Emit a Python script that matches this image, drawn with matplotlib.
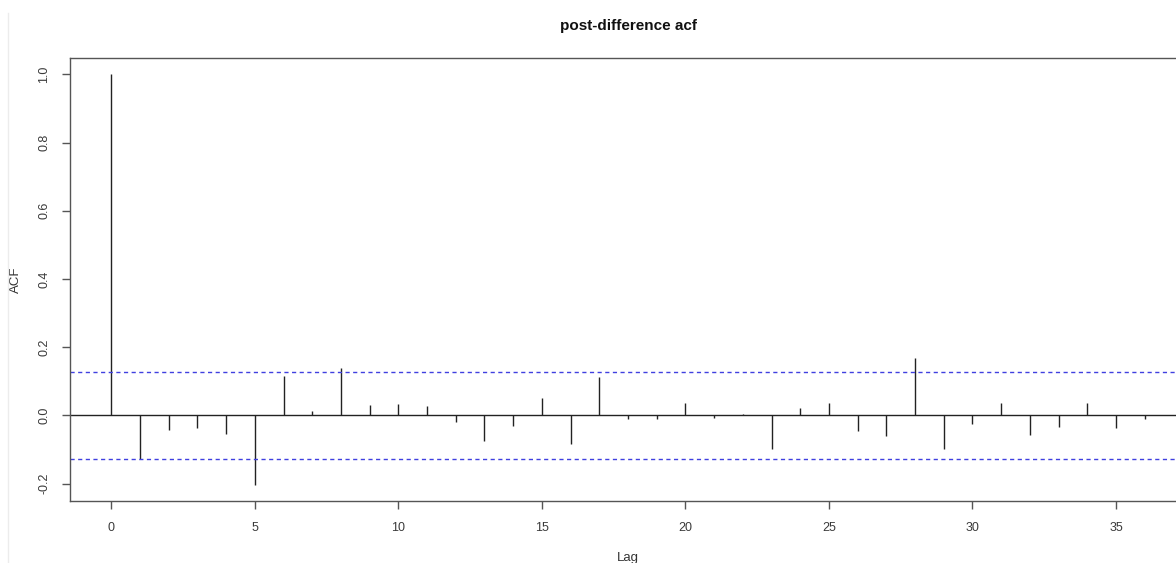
import matplotlib
matplotlib.use("Agg")
import matplotlib.pyplot as plt
from matplotlib.lines import Line2D

plt.rcParams['font.family'] = ['Liberation Sans', 'DejaVu Sans']

lags = list(range(0, 37))
acf_values = [1.0, -0.127, -0.043, -0.036, -0.055, -0.203, 0.116, 0.012, 0.140, 0.030,
              0.032, 0.028, -0.019, -0.075, -0.030, 0.052, -0.085, 0.113, -0.011, -0.012,
              0.037, -0.008, 0.004, -0.098, 0.021, 0.035, -0.047, -0.061, 0.169, -0.098,
              -0.026, 0.035, -0.058, -0.034, 0.035, -0.036, -0.012]
conf_bound = 0.127
x_ticks = [0, 5, 10, 15, 20, 25, 30, 35]
y_ticks = [-0.2, 0.0, 0.2, 0.4, 0.6, 0.8, 1.0]
title = "post-difference acf"

fig = plt.figure(figsize=(11.76, 5.63), dpi=100)
ax = fig.add_axes([70/1176, 1 - 501/563, (1186 - 70)/1176, (501 - 58)/563])

ax.vlines(lags, 0, acf_values, color='#222222', linewidth=1.0)
ax.axhline(0, color='#222222', linewidth=1.0)
for b in (conf_bound, -conf_bound):
    ax.axhline(b, color='#4040e0', linewidth=1.0, linestyle=(0, (3, 2.5)))

ax.set_xlim(-1.44, 37.44)
ax.set_ylim(-0.2512, 1.0481)
ax.set_xticks(x_ticks)
ax.set_xticklabels([str(t) for t in x_ticks])
ax.set_yticks(y_ticks)
ax.set_yticklabels([f"{t:.1f}" for t in y_ticks], rotation=90, va='center')

for side in ('left', 'bottom', 'top'):
    ax.spines[side].set_color('#555555')
    ax.spines[side].set_linewidth(1.0)
ax.spines['right'].set_visible(False)

ax.tick_params(axis='both', colors='#555555', length=6, width=1.0, labelsize=9,
               labelcolor='#3a3a3a')
ax.tick_params(axis='x', pad=9)
ax.tick_params(axis='y', pad=8)

ax.set_title(title, fontsize=11, fontweight='bold', color='#111111', pad=20)
ax.set_xlabel('Lag', fontsize=9.5, color='#333333', labelpad=13)
ax.set_ylabel('ACF', fontsize=9.5, color='#333333', labelpad=12)

fig.add_artist(Line2D([8/1176, 8/1176], [0, 1 - 13/563], transform=fig.transFigure,
                      color='#ececec', linewidth=1.0))

fig.savefig('out.png', dpi=100)
